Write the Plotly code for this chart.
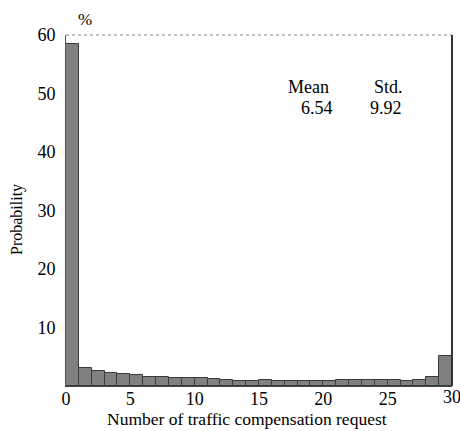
import plotly.graph_objects as go

bin_centers = [i + 0.5 for i in range(30)]
probability = [58.4, 3.0, 2.5, 2.2, 2.0, 1.8, 1.6, 1.5, 1.4, 1.3,
               1.3, 1.2, 1.0, 0.9, 0.9, 1.0, 0.8, 0.8, 0.8, 0.8,
               0.9, 1.0, 1.1, 1.1, 1.1, 1.1, 0.8, 1.1, 1.6, 5.2]
x_ticks = [0, 5, 10, 15, 20, 25]
x_last_tick = 30
y_ticks = [10, 20, 30, 40, 50, 60]
mean_val = "6.54"
std_val = "9.92"

FONT = "Liberation Serif, Times New Roman, serif"
L, R, T, B = 66, 8, 35, 45
W, H = 460, 431
PW, PH = W - L - R, H - T - B


def px(xp):
    return (xp - L) / PW


def py(yp):
    return (H - B - yp) / PH


fig = go.Figure(go.Bar(
    x=bin_centers, y=probability, width=1,
    marker=dict(color="#808080", line=dict(color="#3a3a3a", width=1)),
))

fig.update_layout(
    width=W, height=H,
    margin=dict(l=L, r=R, t=T, b=B),
    paper_bgcolor="white", plot_bgcolor="white",
    showlegend=False,
    font=dict(family=FONT, size=18, color="black"),
    bargap=0,
    xaxis=dict(range=[0, 30], tickvals=x_ticks, showgrid=False, zeroline=False,
               showline=True, linecolor="#444", linewidth=1, mirror=False,
               ticks="", ticklabelstandoff=-4, tickfont=dict(family=FONT, size=18)),
    yaxis=dict(range=[0, 60], tickvals=y_ticks, showgrid=False, zeroline=False,
               showline=True, linecolor="#555", linewidth=1, mirror=False,
               ticks="", ticklabelstandoff=6, tickfont=dict(family=FONT, size=18)),
    shapes=[
        dict(type="line", xref="paper", yref="paper", x0=0, x1=1, y0=1, y1=1,
             line=dict(color="#888", width=1, dash="dot")),
        dict(type="line", xref="paper", yref="paper", x0=1, x1=1, y0=0, y1=1,
             line=dict(color="#333", width=2)),
    ],
    annotations=[
        dict(text=str(x_last_tick), xref="x", yref="paper", x=x_last_tick, y=0,
             yshift=-11, showarrow=False, font=dict(family=FONT, size=18),
             xanchor="center", yanchor="middle"),
        dict(text="Number of traffic compensation request", xref="paper", yref="paper",
             x=px(247), y=py(419), showarrow=False,
             font=dict(family=FONT, size=17.5), xanchor="center", yanchor="middle"),
        dict(text="Probability", xref="paper", yref="paper",
             x=px(17), y=py(220), showarrow=False, textangle=-90,
             font=dict(family=FONT, size=16), xanchor="center", yanchor="middle"),
        dict(text="%", xref="paper", yref="paper",
             x=px(85), y=py(20), showarrow=False,
             font=dict(family=FONT, size=17), xanchor="center", yanchor="middle"),
        dict(text="Mean", xref="paper", yref="paper",
             x=px(308), y=py(87), showarrow=False,
             font=dict(family=FONT, size=18), xanchor="center", yanchor="middle"),
        dict(text="Std.", xref="paper", yref="paper",
             x=px(388), y=py(87), showarrow=False,
             font=dict(family=FONT, size=18), xanchor="center", yanchor="middle"),
        dict(text=mean_val, xref="paper", yref="paper",
             x=px(317), y=py(108), showarrow=False,
             font=dict(family=FONT, size=18), xanchor="center", yanchor="middle"),
        dict(text=std_val, xref="paper", yref="paper",
             x=px(386), y=py(108), showarrow=False,
             font=dict(family=FONT, size=18), xanchor="center", yanchor="middle"),
    ],
)

fig.write_html("out.html", config={"displayModeBar": False},
               post_script="document.body.style.margin='0';document.body.style.overflow='hidden';")
